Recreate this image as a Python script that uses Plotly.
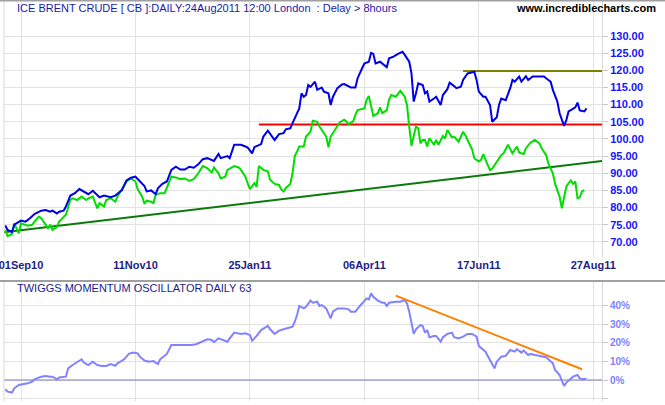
import plotly.graph_objects as go

# ---------------- data (x = trading-day number, 0 = 01Sep10) ----------------
tick_days = [0, 51, 102, 153, 204, 255]
tick_labels = ["01Sep10", "11Nov10", "25Jan11", "06Apr11", "17Jun11", "27Aug11"]

price_ticks = [70, 75, 80, 85, 90, 95, 100, 105, 110, 115, 120, 125, 130]
price_tick_labels = ["%.2f" % v for v in price_ticks]

osc_ticks = [-10, 0, 10, 20, 30, 40]
osc_tick_labels = ["", "0%", "10%", "20%", "30%", "40%"]

brent_days = [-7, -6, -4, -3, 0, 2, 4, 6, 9, 11, 13, 14, 16, 17, 19, 20, 22, 24, 26, 28,
              30, 32, 34, 35, 37, 40, 42, 43, 45, 47, 49, 51, 53, 55, 56, 58, 60, 61, 63, 65,
              67, 69, 71, 73, 75, 77, 79, 81, 83, 85, 86, 88, 89, 92, 93, 95, 98, 100, 101, 103,
              104, 107, 108, 110, 111, 113, 115, 117, 118, 120, 121, 122, 124, 125, 126, 127, 128, 129, 131, 132,
              134, 135, 137, 138, 139, 141, 143, 144, 147, 149, 150, 152, 153, 155, 156, 157, 158, 160, 161, 163,
              164, 166, 168, 170, 171, 173, 174, 175, 176, 177, 179, 180, 181, 182, 184, 185, 187, 188, 190, 191,
              193, 194, 196, 197, 199, 200, 202, 203, 204, 206, 207, 209, 210, 212, 213, 214, 216, 218, 219, 220,
              222, 223, 225, 226, 228, 230, 232, 233, 235, 236, 237, 239, 240, 242, 243, 244, 245, 247, 248, 249,
              251, 252]
brent_close = [74.8, 73.5, 72.9, 75.0, 76.2, 75.9, 76.9, 78.1, 79.1, 79.3, 78.8, 79.1, 78.3, 78.8, 79.1, 80.3, 83.5, 84.2, 85.4, 84.7,
               83.9, 84.9, 83.5, 83.0, 83.5, 83.0, 83.5, 84.0, 85.1, 87.9, 88.7, 89.0, 87.6, 86.3, 84.7, 85.0, 83.9, 85.6, 86.9, 87.6,
               91.0, 91.9, 91.1, 91.1, 91.9, 91.6, 92.6, 94.1, 94.4, 93.9, 93.6, 95.6, 94.4, 95.0, 94.4, 98.3, 98.3, 97.8, 97.5, 95.8,
               97.6, 98.5, 100.7, 102.4, 101.5, 99.7, 101.4, 101.7, 102.8, 103.1, 104.6, 106.0, 108.9, 113.3, 112.3, 112.8, 115.7, 115.2, 116.7, 114.3,
               115.0, 113.8, 113.3, 109.9, 112.3, 114.8, 115.9, 116.0, 115.0, 115.0, 117.7, 120.6, 122.0, 122.5, 125.1, 124.8, 122.0, 122.5, 122.0, 120.9,
               123.5, 124.0, 124.8, 125.4, 124.5, 122.5, 119.1, 110.9, 113.3, 116.2, 115.7, 113.3, 113.8, 110.9, 111.8, 112.3, 109.9, 112.8, 114.5, 116.4,
               115.4, 114.8, 115.2, 117.2, 119.1, 119.3, 119.6, 117.2, 113.8, 112.3, 112.3, 109.9, 105.0, 106.3, 109.9, 111.8, 111.3, 114.8, 117.2, 116.7,
               118.2, 116.7, 118.3, 117.2, 118.2, 118.2, 118.2, 118.2, 117.2, 116.7, 114.3, 110.9, 107.5, 103.8, 105.5, 108.0, 108.4, 109.2, 110.6, 108.3,
               108.0, 108.9]

green_days = [-7, -6, -4, -3, -1, 0, 3, 5, 6, 8, 9, 11, 12, 13, 14, 16, 17, 20, 22, 23,
              25, 27, 29, 30, 32, 34, 35, 37, 38, 40, 42, 43, 45, 47, 49, 51, 52, 54, 55, 56,
              58, 59, 60, 62, 64, 65, 67, 69, 71, 73, 75, 77, 79, 81, 83, 85, 86, 88, 89, 91,
              92, 95, 97, 98, 100, 101, 102, 104, 105, 106, 108, 110, 111, 113, 115, 116, 117, 118, 120, 121,
              122, 123, 124, 126, 127, 129, 130, 132, 133, 136, 137, 138, 140, 142, 144, 145, 146, 148, 149, 150,
              153, 154, 155, 156, 157, 159, 160, 161, 163, 164, 165, 167, 168, 169, 171, 172, 173, 174, 176, 177,
              178, 179, 180, 181, 182, 184, 185, 186, 188, 189, 190, 192, 193, 195, 197, 198, 200, 201, 202, 204,
              205, 206, 208, 209, 210, 212, 214, 215, 217, 219, 221, 222, 224, 225, 227, 229, 231, 232, 234, 235,
              237, 238, 240, 241, 242, 243, 244, 245, 246, 247, 248, 249, 250, 251]
green_vals = [73.5, 71.7, 72.3, 75.4, 72.5, 75.4, 74.7, 75.0, 75.9, 77.4, 76.9, 75.0, 74.0, 75.0, 73.5, 74.3, 75.9, 77.9, 82.2, 82.7,
              82.2, 83.2, 82.2, 82.7, 83.2, 79.8, 81.3, 80.3, 82.2, 82.7, 81.7, 83.2, 85.3, 87.6, 88.5, 87.6, 85.3, 83.2, 81.1, 82.0,
              81.7, 81.3, 83.7, 84.2, 84.2, 85.9, 89.0, 88.8, 88.3, 88.5, 87.8, 88.3, 90.0, 92.1, 91.5, 90.2, 91.7, 90.0, 88.5, 89.0,
              91.0, 92.1, 91.7, 91.0, 89.0, 87.1, 85.4, 87.1, 86.1, 92.1, 91.0, 90.5, 88.1, 86.9, 86.6, 85.3, 84.7, 85.7, 86.9, 90.0,
              95.0, 96.3, 97.8, 97.8, 100.7, 102.1, 105.3, 105.0, 103.6, 100.7, 97.6, 100.7, 102.6, 104.8, 105.6, 105.1, 104.3, 105.1, 107.0, 108.4,
              108.9, 111.4, 112.5, 109.4, 106.7, 107.5, 109.2, 107.5, 108.4, 111.4, 112.8, 112.3, 113.1, 114.0, 112.3, 109.9, 103.6, 98.0, 103.6, 103.1,
              98.7, 99.7, 99.7, 97.8, 100.2, 98.3, 99.7, 98.3, 100.9, 100.2, 102.6, 100.5, 100.7, 99.2, 102.1, 101.1, 98.3, 97.0, 94.4, 93.4,
              93.9, 95.6, 92.4, 90.9, 91.4, 93.4, 95.3, 95.8, 98.3, 95.8, 97.8, 96.0, 95.6, 97.3, 98.9, 99.7, 98.7, 97.3, 95.3, 92.9,
              90.0, 86.9, 83.2, 79.8, 83.2, 86.1, 87.1, 87.9, 86.9, 87.6, 82.7, 83.0, 84.7, 85.1]

support_days = [106, 259]
support_level = [104.2, 104.2]
resistance_days = [197, 259]
resistance_level = [119.8, 119.8]
trend_days = [-8, 259]
trend_vals = [72.8, 93.6]

osc_days = [-7, -6, -4, -3, -1, 1, 3, 5, 6, 9, 11, 13, 14, 16, 17, 20, 21, 23, 25, 27,
            28, 30, 32, 34, 36, 38, 40, 42, 43, 46, 48, 50, 52, 53, 55, 57, 59, 61, 62, 63,
            65, 67, 69, 72, 74, 76, 78, 81, 83, 85, 86, 88, 90, 92, 93, 95, 98, 100, 102, 103,
            105, 107, 110, 111, 113, 115, 117, 119, 121, 122, 123, 124, 126, 127, 129, 130, 132, 133, 134, 136,
            137, 138, 139, 141, 144, 146, 147, 149, 151, 153, 154, 155, 156, 157, 159, 161, 162, 163, 164, 167,
            169, 171, 172, 173, 174, 175, 176, 178, 179, 180, 181, 182, 184, 185, 187, 188, 190, 192, 193, 195,
            197, 199, 201, 203, 204, 206, 207, 208, 210, 211, 212, 214, 216, 218, 220, 221, 223, 224, 226, 227,
            229, 231, 234, 235, 237, 238, 240, 241, 242, 243, 245, 246, 248, 249, 250, 252]
osc_vals = [-5.0, -6.3, -6.8, -4.5, -2.7, -2.3, -1.8, -0.9, 0.4, 1.8, 2.2, 1.8, 1.8, 0.4, 1.4, 1.8, 6.3, 8.1, 9.9, 11.2,
            9.4, 8.1, 9.9, 8.1, 7.6, 7.6, 8.6, 7.7, 9.0, 11.2, 14.1, 14.8, 14.4, 12.6, 10.5, 9.9, 10.2, 8.6, 11.2, 12.3,
            14.1, 18.9, 18.9, 18.6, 18.6, 18.9, 19.3, 21.1, 22.0, 21.6, 20.4, 22.5, 21.6, 20.7, 22.5, 25.6, 24.9, 25.2, 24.3, 21.3,
            23.8, 27.0, 29.2, 27.4, 24.9, 26.7, 27.4, 28.3, 28.8, 31.5, 35.1, 40.0, 38.7, 39.6, 42.9, 41.8, 42.3, 40.0, 40.5, 38.7,
            36.0, 33.3, 36.9, 38.7, 38.7, 38.2, 36.9, 36.9, 40.0, 42.9, 44.1, 43.6, 46.8, 45.0, 42.9, 41.8, 41.8, 40.0, 41.8, 42.3,
            42.3, 43.2, 41.4, 36.9, 31.0, 24.9, 27.4, 29.7, 29.2, 25.6, 27.0, 23.1, 23.8, 23.8, 20.7, 23.1, 24.9, 25.6, 23.1, 22.5,
            23.4, 24.9, 24.9, 23.4, 18.4, 16.6, 15.3, 13.0, 8.1, 6.3, 9.9, 12.6, 13.0, 16.2, 15.3, 16.6, 14.8, 15.9, 13.5, 14.1,
            13.5, 13.0, 12.3, 11.2, 9.0, 5.4, 2.7, -0.4, -3.2, -1.4, 0.9, 1.8, 2.7, 0.9, 0.4, 0.7]

osc_trend_days = [167, 250]
osc_trend_vals = [45.6, 5.8]
osc_zero_days = [-8, 259]
osc_zero_vals = [0, 0]

# ---------------- figure ----------------
W, H = 665, 405
def px_x(p): return p / W
def px_y(p): return (H - p) / H

FONT = "Arial, Liberation Sans, sans-serif"
GRID = "#e2e2e2"

fig = go.Figure()

fig.add_trace(go.Scatter(x=trend_days, y=trend_vals, mode="lines",
                         line=dict(color="#0a7a0a", width=2), xaxis="x", yaxis="y"))
fig.add_trace(go.Scatter(x=support_days, y=support_level, mode="lines",
                         line=dict(color="#ff0000", width=2), xaxis="x", yaxis="y"))
fig.add_trace(go.Scatter(x=resistance_days, y=resistance_level, mode="lines",
                         line=dict(color="#808000", width=2), xaxis="x", yaxis="y"))
fig.add_trace(go.Scatter(x=green_days, y=green_vals, mode="lines",
                         line=dict(color="#00dd00", width=2), xaxis="x", yaxis="y"))
fig.add_trace(go.Scatter(x=brent_days, y=brent_close, mode="lines",
                         line=dict(color="#0000e6", width=2), xaxis="x", yaxis="y"))

fig.add_trace(go.Scatter(x=osc_zero_days, y=osc_zero_vals, mode="lines",
                         line=dict(color="#7a7acc", width=1.2), xaxis="x2", yaxis="y2"))
fig.add_trace(go.Scatter(x=osc_days, y=osc_vals, mode="lines",
                         line=dict(color="#8282ff", width=2), xaxis="x2", yaxis="y2"))
fig.add_trace(go.Scatter(x=osc_trend_days, y=osc_trend_vals, mode="lines",
                         line=dict(color="#ff8000", width=2), xaxis="x2", yaxis="y2"))

xr = [-7.58, 258.9]
xdom = [px_x(4), px_x(602)]

fig.update_layout(
    template="none",
    width=W, height=H, autosize=False, margin=dict(l=0, r=0, t=0, b=0, pad=0),
    paper_bgcolor="white", plot_bgcolor="white", showlegend=False,
    xaxis=dict(domain=xdom, range=xr, tickvals=tick_days, ticktext=tick_labels,
               showgrid=True, gridcolor=GRID, gridwidth=1, zeroline=False,
               ticks="", showline=False, anchor="y", automargin=False,
               ticklabeloverflow="allow",
               tickfont=dict(family=FONT, size=11, color="#1e1e84", weight="bold")),
    yaxis=dict(domain=[px_y(257), px_y(1)], range=[65.6, 140.2], side="right",
               tickvals=price_ticks, ticktext=price_tick_labels,
               showgrid=True, gridcolor=GRID, zeroline=False,
               ticks="outside", ticklen=5, tickcolor="#c8c8c8", tickwidth=1,
               showline=True, linecolor="#d8d8d8", linewidth=1, anchor="x", automargin=False,
               ticklabeloverflow="allow",
               tickfont=dict(family=FONT, size=11, color="#1414ff", weight="bold")),
    xaxis2=dict(domain=xdom, range=xr, tickvals=tick_days, showticklabels=False,
                showgrid=True, gridcolor=GRID, zeroline=False, ticks="", anchor="y2",
                automargin=False),
    yaxis2=dict(domain=[px_y(401), px_y(281)], range=[-11.35, 53.5], side="right",
                tickvals=osc_ticks, ticktext=osc_tick_labels,
                showgrid=True, gridcolor=GRID, zeroline=False,
                ticks="outside", ticklen=5, tickcolor="#c8c8c8", tickwidth=1,
                showline=True, linecolor="#d8d8d8", linewidth=1, anchor="x2", automargin=False,
                ticklabeloverflow="allow",
                tickfont=dict(family=FONT, size=10, color="#8080ff", weight="bold")),
)

# panel left edges
for xref, yref in (("x domain", "y domain"), ("x2 domain", "y2 domain")):
    fig.add_shape(type="line", xref=xref, yref=yref, x0=0, x1=0, y0=0, y1=1,
                  line=dict(color="#d8d8d8", width=1))

# top border and panel separator
for yp in (0.5, 281):
    fig.add_shape(type="line", xref="paper", yref="paper", x0=0, x1=1,
                  y0=px_y(yp), y1=px_y(yp), line=dict(color="#a0a0a0", width=2))

fig.add_annotation(xref="paper", yref="paper", x=px_x(15), y=px_y(8),
                   xanchor="left", yanchor="middle", showarrow=False,
                   text="ICE BRENT CRUDE [ CB ]:DAILY:24Aug2011 12:00 London  : Delay > 8hours",
                   font=dict(family=FONT, size=11, color="#1a1aa6"))
fig.add_annotation(xref="paper", yref="paper", x=px_x(658), y=px_y(8),
                   xanchor="right", yanchor="middle", showarrow=False,
                   text="www.incrediblecharts.com",
                   font=dict(family=FONT, size=11, color="#000000", weight="bold"))
fig.add_annotation(xref="paper", yref="paper", x=px_x(15), y=px_y(287.5),
                   xanchor="left", yanchor="middle", showarrow=False,
                   text="TWIGGS MOMENTUM OSCILLATOR DAILY 63",
                   font=dict(family=FONT, size=11, color="#1c1c8a"))

fig.write_html("out.html", config={"responsive": False})
